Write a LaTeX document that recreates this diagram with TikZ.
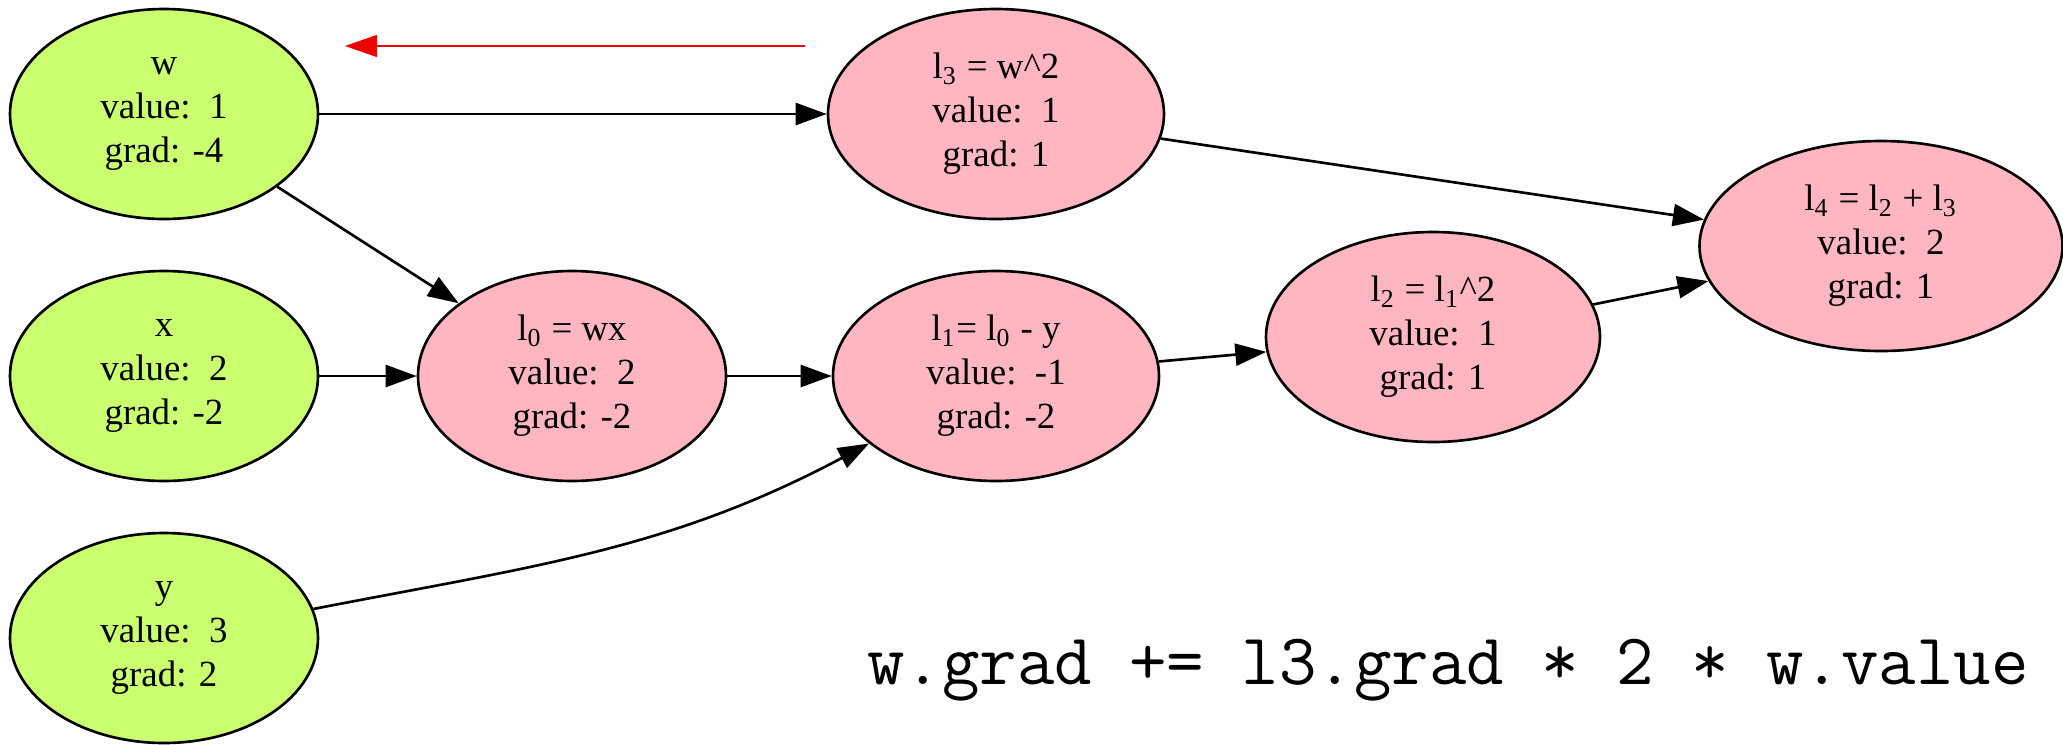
\documentclass[tikz,border=0pt]{standalone}
\usepackage{fontspec}
\setmainfont{Liberation Serif}
\usepackage{tikz}
\usetikzlibrary{shapes.geometric, arrows.meta}
\definecolor{leafgreen}{RGB}{202, 255, 112}
\definecolor{oppink}{RGB}{255, 182, 193}
\definecolor{backred}{RGB}{240, 0, 0}

\begin{document}
\begin{tikzpicture}[
        leaf/.style={ellipse, draw=black, line width=0.75pt, fill=leafgreen, inner sep=0pt, minimum width=3.08cm, minimum height=2.1cm, align=center, font=\fontsize{10.5}{12.5}\selectfont},
        op/.style={ellipse, draw=black, line width=0.75pt, fill=oppink, inner sep=0pt, minimum height=2.1cm, align=center, font=\fontsize{10.5}{12.5}\selectfont},
        flow/.style={-{Triangle[length=3.1mm, width=2.2mm]}, line width=0.75pt, black},
        backflow/.style={-{Triangle[length=3.2mm, width=2.2mm]}, line width=0.4pt, backred}
    ]
    \useasboundingbox (0,0) rectangle (20.63,-7.44);

    % Inputs
    \node[leaf] (w) at (1.64, -1.14) {w\\ value:\ \ 1\\ grad: -4};
    \node[leaf] (x) at (1.64, -3.76) {x\\ value:\ \ 2\\ grad: -2};
    \node[leaf] (y) at (1.64, -6.38) {y\\ value:\ \ 3\\ grad: 2};

    % Operations
    \node[op, minimum width=3.08cm] (l0) at (5.72, -3.76) {l\textsubscript{0} = wx\\ value:\ \ 2\\ grad: -2};
    \node[op, minimum width=3.26cm] (l1) at (9.96, -3.76) {l\textsubscript{1}= l\textsubscript{0} - y\\ value:\ \ -1\\ grad: -2};
    \node[op, minimum width=3.36cm] (l3) at (9.96, -1.14) {l\textsubscript{3} = w\textasciicircum 2\\ value:\ \ 1\\ grad: 1};
    \node[op, minimum width=3.34cm] (l2) at (14.33, -3.37) {l\textsubscript{2} = l\textsubscript{1}\textasciicircum 2\\ value:\ \ 1\\ grad: 1};
    \node[op, minimum width=3.63cm] (l4) at (18.81, -2.46) {l\textsubscript{4} = l\textsubscript{2} + l\textsubscript{3}\\ value:\ \ 2\\ grad: 1};

    % Forward edges
    \draw[flow] (w) -- (l3);
    \draw[flow] (w) -- (l0);
    \draw[flow] (x) -- (l0);
    \draw[flow] (l0) -- (l1);
    \draw[flow] (y) to[out=11, in=208] (l1);
    \draw[flow] (l1) -- (l2);
    \draw[flow] (l2) -- (l4);
    \draw[flow] (l3) -- (l4);

    % Backward step
    \coordinate (back_from) at (8.05, -0.46);
    \coordinate (back_to) at (3.45, -0.46);
    \draw[backflow] (back_from) -- (back_to);

    \node[anchor=base, font=\ttfamily\fontsize{20.7}{24}\selectfont] (rule) at (14.48, -6.84) {w.grad += l3.grad * 2 * w.value};

\end{tikzpicture}
\end{document}
